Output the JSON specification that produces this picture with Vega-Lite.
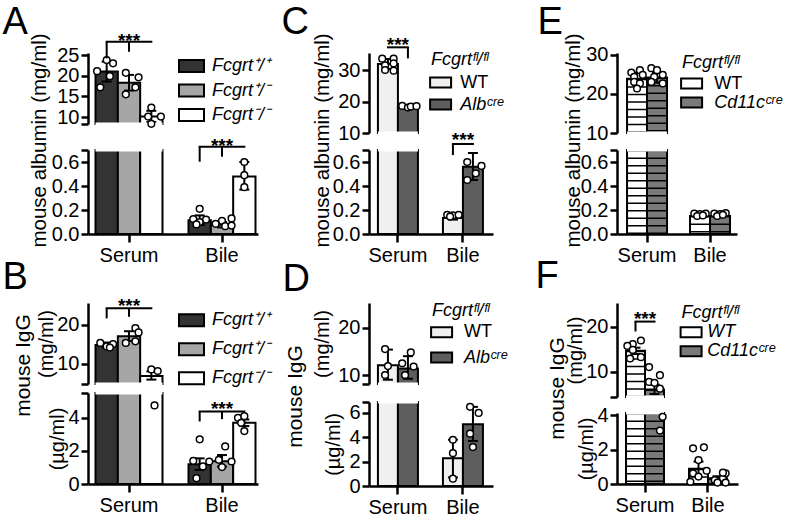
{
"$schema":"https://vega.github.io/schema/vega-lite/v6.json",
"background":"white",
"padding":{"left":2,"top":3,"right":0,"bottom":0},
"datasets":{
"bars":[
{"p":"A","c":"Serum","g":"Fcgrt⁺/⁺","m":21.0,"lo":18.6,"hi":23.4},
{"p":"A","c":"Serum","g":"Fcgrt⁺/⁻","m":18.3,"lo":16.4,"hi":20.2},
{"p":"A","c":"Serum","g":"Fcgrt⁻/⁻","m":10.1,"lo":8.8,"hi":11.5},
{"p":"A","c":"Bile","g":"Fcgrt⁺/⁺","m":0.115,"lo":0.075,"hi":0.155},
{"p":"A","c":"Bile","g":"Fcgrt⁺/⁻","m":0.078,"lo":0.055,"hi":0.1},
{"p":"A","c":"Bile","g":"Fcgrt⁻/⁻","m":0.48,"lo":0.37,"hi":0.6},
{"p":"B","c":"Serum","g":"Fcgrt⁺/⁺","m":14.9,"lo":14.3,"hi":15.5},
{"p":"B","c":"Serum","g":"Fcgrt⁺/⁻","m":17.1,"lo":15.9,"hi":18.4},
{"p":"B","c":"Serum","g":"Fcgrt⁻/⁻","m":6.9,"lo":6.0,"hi":8.1},
{"p":"B","c":"Bile","g":"Fcgrt⁺/⁺","m":1.2,"lo":0.85,"hi":1.55},
{"p":"B","c":"Bile","g":"Fcgrt⁺/⁻","m":1.38,"lo":1.05,"hi":1.75},
{"p":"B","c":"Bile","g":"Fcgrt⁻/⁻","m":3.7,"lo":3.5,"hi":3.9},
{"p":"C","c":"Serum","g":"WT","m":31.9,"lo":30.3,"hi":33.5},
{"p":"C","c":"Serum","g":"Albᶜʳᵉ","m":18.2,"lo":17.7,"hi":18.7},
{"p":"C","c":"Bile","g":"WT","m":0.133,"lo":0.12,"hi":0.15},
{"p":"C","c":"Bile","g":"Albᶜʳᵉ","m":0.56,"lo":0.45,"hi":0.675},
{"p":"D","c":"Serum","g":"WT","m":12.1,"lo":9.0,"hi":15.4},
{"p":"D","c":"Serum","g":"Albᶜʳᵉ","m":11.4,"lo":9.2,"hi":14.0},
{"p":"D","c":"Bile","g":"WT","m":2.27,"lo":0.7,"hi":3.8},
{"p":"D","c":"Bile","g":"Albᶜʳᵉ","m":5.07,"lo":3.7,"hi":6.5},
{"p":"E","c":"Serum","g":"WT","m":23.9,"lo":22.3,"hi":25.5},
{"p":"E","c":"Serum","g":"Cd11cᶜʳᵉ","m":24.2,"lo":22.9,"hi":25.6},
{"p":"E","c":"Bile","g":"WT","m":0.15,"lo":0.135,"hi":0.165},
{"p":"E","c":"Bile","g":"Cd11cᶜʳᵉ","m":0.15,"lo":0.135,"hi":0.165},
{"p":"F","c":"Serum","g":"WT","m":14.7,"lo":14.0,"hi":15.4},
{"p":"F","c":"Serum","g":"Cd11cᶜʳᵉ","m":6.1,"lo":5.1,"hi":7.2},
{"p":"F","c":"Bile","g":"WT","m":0.88,"lo":0.45,"hi":1.3},
{"p":"F","c":"Bile","g":"Cd11cᶜʳᵉ","m":0.33,"lo":0.2,"hi":0.45}
],
"pts":[
{"p":"A","c":"Serum","r":"a4","v":23.8},{"p":"A","c":"Serum","r":"a6","v":23.0},{"p":"A","c":"Serum","r":"a1","v":21.1},{"p":"A","c":"Serum","r":"a5","v":19.9},{"p":"A","c":"Serum","r":"a2","v":17.2},
{"p":"A","c":"Serum","r":"b3","v":20.7},{"p":"A","c":"Serum","r":"b7","v":19.6},{"p":"A","c":"Serum","r":"b6","v":17.2},{"p":"A","c":"Serum","r":"b3","v":15.5},
{"p":"A","c":"Serum","r":"c4","v":12.3},{"p":"A","c":"Serum","r":"c3","v":10.1},{"p":"A","c":"Serum","r":"c7","v":10.1},{"p":"A","c":"Serum","r":"c4","v":8.35},
{"p":"A","c":"Bile","r":"a4","v":0.21},{"p":"A","c":"Bile","r":"a2","v":0.125},{"p":"A","c":"Bile","r":"a6","v":0.12},{"p":"A","c":"Bile","r":"a4","v":0.1},{"p":"A","c":"Bile","r":"a3","v":0.08},
{"p":"A","c":"Bile","r":"b7","v":0.13},{"p":"A","c":"Bile","r":"b4","v":0.11},{"p":"A","c":"Bile","r":"b2","v":0.085},{"p":"A","c":"Bile","r":"b5","v":0.065},{"p":"A","c":"Bile","r":"b7","v":0.07},
{"p":"A","c":"Bile","r":"c4","v":0.6},{"p":"A","c":"Bile","r":"c4","v":0.49},{"p":"A","c":"Bile","r":"c4","v":0.39},
{"p":"B","c":"Serum","r":"a2","v":15.4},{"p":"B","c":"Serum","r":"a4","v":14.5},{"p":"B","c":"Serum","r":"a6","v":15.1},{"p":"B","c":"Serum","r":"a5","v":14.2},
{"p":"B","c":"Serum","r":"b6","v":19.2},{"p":"B","c":"Serum","r":"b7","v":18.1},{"p":"B","c":"Serum","r":"b6","v":15.8},{"p":"B","c":"Serum","r":"b3","v":15.4},
{"p":"B","c":"Serum","r":"c4","v":8.6},{"p":"B","c":"Serum","r":"c6","v":8.2},{"p":"B","c":"Serum","r":"c5","v":4.75},
{"p":"B","c":"Bile","r":"a4","v":2.7},{"p":"B","c":"Bile","r":"a2","v":1.4},{"p":"B","c":"Bile","r":"a7","v":1.36},{"p":"B","c":"Bile","r":"a5","v":1.06},{"p":"B","c":"Bile","r":"a3","v":0.35},
{"p":"B","c":"Bile","r":"b5","v":2.27},{"p":"B","c":"Bile","r":"b3","v":1.46},{"p":"B","c":"Bile","r":"b7","v":1.36},{"p":"B","c":"Bile","r":"b4","v":1.02},
{"p":"B","c":"Bile","r":"c2","v":4.0},{"p":"B","c":"Bile","r":"c4","v":4.1},{"p":"B","c":"Bile","r":"c3","v":3.7},{"p":"B","c":"Bile","r":"c4","v":3.2},
{"p":"C","c":"Serum","r":"a2","v":33.6},{"p":"C","c":"Serum","r":"a6","v":33.6},{"p":"C","c":"Serum","r":"a3","v":31.5},{"p":"C","c":"Serum","r":"a6","v":32.1},{"p":"C","c":"Serum","r":"a3","v":30.0},{"p":"C","c":"Serum","r":"a6","v":29.8},
{"p":"C","c":"Serum","r":"b2","v":18.6},{"p":"C","c":"Serum","r":"b4","v":18.1},{"p":"C","c":"Serum","r":"b5","v":18.4},{"p":"C","c":"Serum","r":"b7","v":18.5},
{"p":"C","c":"Bile","r":"a2","v":0.16},{"p":"C","c":"Bile","r":"a4","v":0.155},{"p":"C","c":"Bile","r":"a6","v":0.16},{"p":"C","c":"Bile","r":"a3","v":0.145},
{"p":"C","c":"Bile","r":"b2","v":0.6},{"p":"C","c":"Bile","r":"b7","v":0.567},{"p":"C","c":"Bile","r":"b5","v":0.506},{"p":"C","c":"Bile","r":"b2","v":0.45},
{"p":"D","c":"Serum","r":"a3","v":15.5},{"p":"D","c":"Serum","r":"a4","v":11.9},{"p":"D","c":"Serum","r":"a3","v":10.0},
{"p":"D","c":"Serum","r":"b5","v":14.8},{"p":"D","c":"Serum","r":"b2","v":12.5},{"p":"D","c":"Serum","r":"b6","v":11.8},{"p":"D","c":"Serum","r":"b3","v":10.0},
{"p":"D","c":"Bile","r":"a4","v":3.8},{"p":"D","c":"Bile","r":"a4","v":2.7},{"p":"D","c":"Bile","r":"a4","v":0.6},
{"p":"D","c":"Bile","r":"b3","v":6.5},{"p":"D","c":"Bile","r":"b6","v":6.0},{"p":"D","c":"Bile","r":"b3","v":4.3},{"p":"D","c":"Bile","r":"b4","v":3.2},
{"p":"E","c":"Serum","r":"a2","v":25.5},{"p":"E","c":"Serum","r":"a5","v":26.1},{"p":"E","c":"Serum","r":"a3","v":24.4},{"p":"E","c":"Serum","r":"a6","v":24.9},{"p":"E","c":"Serum","r":"a3","v":23.1},{"p":"E","c":"Serum","r":"a5","v":22.7},{"p":"E","c":"Serum","r":"a4","v":21.4},
{"p":"E","c":"Serum","r":"b2","v":26.6},{"p":"E","c":"Serum","r":"b4","v":26.1},{"p":"E","c":"Serum","r":"b6","v":24.9},{"p":"E","c":"Serum","r":"b3","v":24.4},{"p":"E","c":"Serum","r":"b2","v":23.1},{"p":"E","c":"Serum","r":"b6","v":22.7},
{"p":"E","c":"Bile","r":"a2","v":0.17},{"p":"E","c":"Bile","r":"a4","v":0.165},{"p":"E","c":"Bile","r":"a6","v":0.17},{"p":"E","c":"Bile","r":"a3","v":0.15},{"p":"E","c":"Bile","r":"a5","v":0.155},
{"p":"E","c":"Bile","r":"b2","v":0.17},{"p":"E","c":"Bile","r":"b4","v":0.165},{"p":"E","c":"Bile","r":"b6","v":0.175},{"p":"E","c":"Bile","r":"b3","v":0.15},{"p":"E","c":"Bile","r":"b5","v":0.16},
{"p":"F","c":"Serum","r":"a6","v":17.0},{"p":"F","c":"Serum","r":"a3","v":16.2},{"p":"F","c":"Serum","r":"a1","v":15.8},{"p":"F","c":"Serum","r":"a3","v":14.9},{"p":"F","c":"Serum","r":"a2","v":13.0},{"p":"F","c":"Serum","r":"a6","v":13.3},
{"p":"F","c":"Serum","r":"b2","v":11.1},{"p":"F","c":"Serum","r":"b6","v":9.3},{"p":"F","c":"Serum","r":"b2","v":7.8},{"p":"F","c":"Serum","r":"b4","v":7.6},{"p":"F","c":"Serum","r":"b6","v":6.3},{"p":"F","c":"Serum","r":"b7","v":3.9},{"p":"F","c":"Serum","r":"b6","v":3.1},
{"p":"F","c":"Bile","r":"a2","v":2.07},{"p":"F","c":"Bile","r":"a6","v":2.13},{"p":"F","c":"Bile","r":"a4","v":1.39},{"p":"F","c":"Bile","r":"a7","v":0.77},{"p":"F","c":"Bile","r":"a2","v":0.62},{"p":"F","c":"Bile","r":"a4","v":0.43},{"p":"F","c":"Bile","r":"a1","v":0.13},
{"p":"F","c":"Bile","r":"b3","v":0.23},{"p":"F","c":"Bile","r":"b6","v":0.33},{"p":"F","c":"Bile","r":"b4","v":0.08},{"p":"F","c":"Bile","r":"b7","v":0.62},{"p":"F","c":"Bile","r":"b6","v":0.66},{"p":"F","c":"Bile","r":"b7","v":0.08}
],
"bl":[
{"p":"A","s":"t","k":1,"c":"Serum","g":"Fcgrt⁺/⁺","y":28.2},{"p":"A","s":"t","k":1,"c":"Serum","g":"Fcgrt⁻/⁻","y":28.2},
{"p":"A","s":"b","k":2,"c":"Bile","g":"Fcgrt⁺/⁺","y":0.7275},{"p":"A","s":"b","k":2,"c":"Bile","g":"Fcgrt⁻/⁻","y":0.7275},
{"p":"B","s":"t","k":3,"c":"Serum","g":"Fcgrt⁺/⁺","y":24.3},{"p":"B","s":"t","k":3,"c":"Serum","g":"Fcgrt⁻/⁻","y":24.3},
{"p":"B","s":"b","k":4,"c":"Bile","g":"Fcgrt⁺/⁺","y":4.38},{"p":"B","s":"b","k":4,"c":"Bile","g":"Fcgrt⁻/⁻","y":4.38},
{"p":"C","s":"t","k":5,"c":"Serum","g":"WT","y":37.2},{"p":"C","s":"t","k":5,"c":"Serum","g":"Albᶜʳᵉ","y":37.2},
{"p":"C","s":"b","k":6,"c":"Bile","g":"WT","y":0.75},{"p":"C","s":"b","k":6,"c":"Bile","g":"Albᶜʳᵉ","y":0.75},
{"p":"F","s":"t","k":7,"c":"Serum","g":"WT","y":21.2},{"p":"F","s":"t","k":7,"c":"Serum","g":"Cd11cᶜʳᵉ","y":21.2}
],
"bt":[
{"p":"A","s":"t","c":"Serum","g":"Fcgrt⁺/⁺","yt":28.2,"yb":24.2},{"p":"A","s":"t","c":"Serum","g":"Fcgrt⁺/⁻","yt":28.2,"yb":25.8},
{"p":"A","s":"b","c":"Bile","g":"Fcgrt⁺/⁺","yt":0.7275,"yb":0.6025},{"p":"A","s":"b","c":"Bile","g":"Fcgrt⁺/⁻","yt":0.7275,"yb":0.644},
{"p":"B","s":"t","c":"Serum","g":"Fcgrt⁺/⁺","yt":24.3,"yb":21.7},{"p":"B","s":"t","c":"Serum","g":"Fcgrt⁺/⁻","yt":24.3,"yb":22.1},
{"p":"B","s":"b","c":"Bile","g":"Fcgrt⁺/⁺","yt":4.38,"yb":3.78},{"p":"B","s":"b","c":"Bile","g":"Fcgrt⁺/⁻","yt":4.38,"yb":3.92},
{"p":"C","s":"t","c":"Serum","g":"Albᶜʳᵉ","yt":37.2,"yb":33.7},
{"p":"C","s":"b","c":"Bile","g":"WT","yt":0.75,"yb":0.658},
{"p":"F","s":"t","c":"Serum","g":"WT","yt":21.2,"yb":19.0}
],
"bx":[
{"p":"A","s":"t","c":"Serum","y":26.9,"t":"***"},{"p":"A","s":"b","c":"Bile","y":0.683,"t":"***"},
{"p":"B","s":"t","c":"Serum","y":23.3,"t":"***"},{"p":"B","s":"b","c":"Bile","y":4.18,"t":"***"},
{"p":"C","s":"t","c":"Serum","y":36.0,"t":"***"},{"p":"C","s":"b","c":"Bile","y":0.733,"t":"***"},
{"p":"F","s":"t","c":"Serum","y":20.4,"t":"***"}
]
},
"columns":3,
"spacing":{"row":69,"column":60},
"bounds":"flush",
"resolve":{"scale":{"fill":"independent"},"legend":{"fill":"independent"}},
"concat":[
{
"width":221,"height":181,
"encoding":{"x":{"field":"c","type":"nominal","sort":["Serum","Bile"],"title":null,"scale":{"type":"band","domain":["Serum","Bile"],"range":[0,170],"paddingInner":0.2796,"paddingOuter":0.0538,"align":0.75},"axis":{"labelAngle":0,"labelFontSize":20,"labelPadding":3,"tickSize":8,"title":null}}},
"layer":[
{"data":{"name":"bars"},"transform":[{"filter":"datum.p=='A' && datum.c=='Serum'"}],"mark":{"type":"bar","stroke":"black","strokeWidth":2},
"encoding":{"xOffset":{"field":"g","type":"nominal","scale":{"type":"band","domain":["Fcgrt⁺/⁺","Fcgrt⁺/⁻","Fcgrt⁻/⁻"],"paddingInner":0,"paddingOuter":0}},"y":{"field":"m","type":"quantitative","scale":{"domain":[8.31,25.5],"range":[71,0],"clamp":true,"zero":false,"nice":false},"axis":{"orient":"left","values":[8.31,10,15,20,25],"labelExpr":"datum.value < 9 ? '' : datum.label","title":null}},"y2":{"datum":0},
"fill":{"field":"g","type":"nominal","scale":{"domain":["Fcgrt⁺/⁺","Fcgrt⁺/⁻","Fcgrt⁻/⁻"],"range":["#333333","#a6a6a6","#ffffff"]},"legend":{"orient":"none","legendX":92.5,"legendY":2,"title":null,"symbolType":"M-1.25,-0.6H1.25V0.6H-1.25Z","symbolSize":400,"rowPadding":3.5,"labelOffset":9.5,"labelFontStyle":"italic"}}}},
{"data":{"name":"bars"},"transform":[{"filter":"datum.p=='A' && datum.c=='Serum'"}],"mark":{"type":"rule","color":"black","strokeWidth":2},
"encoding":{"xOffset":{"field":"g","type":"nominal","scale":{"type":"band","domain":["Fcgrt⁺/⁺","Fcgrt⁺/⁻","Fcgrt⁻/⁻"],"paddingInner":0,"paddingOuter":0}},"y":{"field":"lo","type":"quantitative","scale":{"domain":[8.31,25.5],"range":[71,0],"clamp":true,"zero":false,"nice":false},"axis":null},"y2":{"field":"hi"}}},
{"data":{"name":"bars"},"transform":[{"filter":"datum.p=='A' && datum.c=='Serum'"}],"mark":{"type":"tick","orient":"horizontal","size":10,"thickness":2,"color":"black","opacity":1},
"encoding":{"xOffset":{"field":"g","type":"nominal","scale":{"type":"band","domain":["Fcgrt⁺/⁺","Fcgrt⁺/⁻","Fcgrt⁻/⁻"],"paddingInner":0,"paddingOuter":0}},"y":{"field":"hi","type":"quantitative","scale":{"domain":[8.31,25.5],"range":[71,0],"clamp":true,"zero":false,"nice":false},"axis":null}}},
{"data":{"name":"bars"},"transform":[{"filter":"datum.p=='A' && datum.c=='Serum'"}],"mark":{"type":"tick","orient":"horizontal","size":10,"thickness":2,"color":"black","opacity":1},
"encoding":{"xOffset":{"field":"g","type":"nominal","scale":{"type":"band","domain":["Fcgrt⁺/⁺","Fcgrt⁺/⁻","Fcgrt⁻/⁻"],"paddingInner":0,"paddingOuter":0}},"y":{"field":"lo","type":"quantitative","scale":{"domain":[8.31,25.5],"range":[71,0],"clamp":true,"zero":false,"nice":false},"axis":null}}},
{"data":{"name":"bars"},"transform":[{"filter":"datum.p=='A'"}],"mark":{"type":"bar","stroke":"black","strokeWidth":2},
"encoding":{"xOffset":{"field":"g","type":"nominal","scale":{"type":"band","domain":["Fcgrt⁺/⁺","Fcgrt⁺/⁻","Fcgrt⁻/⁻"],"paddingInner":0,"paddingOuter":0}},"y":{"field":"m","type":"quantitative","scale":{"domain":[0,0.7],"range":[181,97],"clamp":true,"zero":false,"nice":false},"axis":{"orient":"left","values":[0,0.2,0.4,0.6,0.7],"format":".1f","labelExpr":"datum.value > 0.65 ? '' : datum.label","title":null}},"y2":{"datum":0},
"fill":{"field":"g","type":"nominal","scale":{"domain":["Fcgrt⁺/⁺","Fcgrt⁺/⁻","Fcgrt⁻/⁻"],"range":["#333333","#a6a6a6","#ffffff"]},"legend":null}}},
{"data":{"name":"bars"},"transform":[{"filter":"datum.p=='A' && datum.c=='Bile'"}],"mark":{"type":"rule","color":"black","strokeWidth":2},
"encoding":{"xOffset":{"field":"g","type":"nominal","scale":{"type":"band","domain":["Fcgrt⁺/⁺","Fcgrt⁺/⁻","Fcgrt⁻/⁻"],"paddingInner":0,"paddingOuter":0}},"y":{"field":"lo","type":"quantitative","scale":{"domain":[0,0.7],"range":[181,97],"clamp":true,"zero":false,"nice":false},"axis":null},"y2":{"field":"hi"}}},
{"data":{"name":"bars"},"transform":[{"filter":"datum.p=='A' && datum.c=='Bile'"}],"mark":{"type":"tick","orient":"horizontal","size":10,"thickness":2,"color":"black","opacity":1},
"encoding":{"xOffset":{"field":"g","type":"nominal","scale":{"type":"band","domain":["Fcgrt⁺/⁺","Fcgrt⁺/⁻","Fcgrt⁻/⁻"],"paddingInner":0,"paddingOuter":0}},"y":{"field":"hi","type":"quantitative","scale":{"domain":[0,0.7],"range":[181,97],"clamp":true,"zero":false,"nice":false},"axis":null}}},
{"data":{"name":"bars"},"transform":[{"filter":"datum.p=='A' && datum.c=='Bile'"}],"mark":{"type":"tick","orient":"horizontal","size":10,"thickness":2,"color":"black","opacity":1},
"encoding":{"xOffset":{"field":"g","type":"nominal","scale":{"type":"band","domain":["Fcgrt⁺/⁺","Fcgrt⁺/⁻","Fcgrt⁻/⁻"],"paddingInner":0,"paddingOuter":0}},"y":{"field":"lo","type":"quantitative","scale":{"domain":[0,0.7],"range":[181,97],"clamp":true,"zero":false,"nice":false},"axis":null}}},
{"data":{"name":"bars"},"transform":[{"filter":"datum.p=='A'"},{"aggregate":[{"op":"count","as":"n"}]}],"mark":{"type":"rect","fill":"white"},
"encoding":{"x":{"datum":"Serum"},"y":{"datum":8.67,"type":"quantitative","scale":{"domain":[8.31,25.5],"range":[71,0],"zero":false,"nice":false},"axis":{"orient":"left","domain":false,"ticks":false,"labels":false,"title":"mouse albumin (mg/ml)","titleX":-43,"titleY":87,"titleAngle":270,"titleAlign":"center","titleBaseline":"alphabetic","titleFontSize":20.5}},"y2":{"datum":1.65}}},
{"data":{"name":"pts"},"transform":[{"filter":"datum.p=='A' && datum.v>=8.3"}],"mark":{"type":"point","filled":true,"fill":"white","stroke":"black","strokeWidth":1.5,"size":45,"opacity":1},
"encoding":{"xOffset":{"field":"r","type":"nominal","scale":{"type":"band","domain":["a1","a2","a3","a4","a5","a6","a7","b1","b2","b3","b4","b5","b6","b7","c1","c2","c3","c4","c5","c6","c7"],"paddingInner":0,"paddingOuter":0}},"y":{"field":"v","type":"quantitative","scale":{"domain":[8.31,25.5],"range":[71,0],"zero":false,"nice":false},"axis":null}}},
{"data":{"name":"pts"},"transform":[{"filter":"datum.p=='A' && datum.v<=0.7"}],"mark":{"type":"point","filled":true,"fill":"white","stroke":"black","strokeWidth":1.5,"size":45,"opacity":1},
"encoding":{"xOffset":{"field":"r","type":"nominal","scale":{"type":"band","domain":["a1","a2","a3","a4","a5","a6","a7","b1","b2","b3","b4","b5","b6","b7","c1","c2","c3","c4","c5","c6","c7"],"paddingInner":0,"paddingOuter":0}},"y":{"field":"v","type":"quantitative","scale":{"domain":[0,0.7],"range":[181,97],"zero":false,"nice":false},"axis":{"orient":"left","domain":false,"ticks":false,"labels":false,"title":"A","titleX":-86,"titleY":-20,"titleAngle":0,"titleAlign":"left","titleBaseline":"alphabetic","titleFontSize":38}}}},
{"data":{"name":"bl"},"transform":[{"filter":"datum.p=='A' && datum.s=='t'"}],"mark":{"type":"line","color":"black","strokeWidth":2,"strokeCap":"square"},"encoding":{"xOffset":{"field":"g","type":"nominal","scale":{"type":"band","domain":["Fcgrt⁺/⁺","Fcgrt⁺/⁻","Fcgrt⁻/⁻"],"paddingInner":0,"paddingOuter":0}},"y":{"field":"y","type":"quantitative","scale":{"domain":[8.31,25.5],"range":[71,0],"zero":false,"nice":false},"axis":null},"detail":{"field":"k","type":"nominal"}}},
{"data":{"name":"bt"},"transform":[{"filter":"datum.p=='A' && datum.s=='t'"}],"mark":{"type":"rule","color":"black","strokeWidth":2},"encoding":{"xOffset":{"field":"g","type":"nominal","scale":{"type":"band","domain":["Fcgrt⁺/⁺","Fcgrt⁺/⁻","Fcgrt⁻/⁻"],"paddingInner":0,"paddingOuter":0}},"y":{"field":"yt","type":"quantitative","scale":{"domain":[8.31,25.5],"range":[71,0],"zero":false,"nice":false},"axis":null},"y2":{"field":"yb"}}},
{"data":{"name":"bx"},"transform":[{"filter":"datum.p=='A' && datum.s=='t'"}],"mark":{"type":"text","fontSize":19,"fontWeight":"bold","baseline":"alphabetic","color":"black"},"encoding":{"y":{"field":"y","type":"quantitative","scale":{"domain":[8.31,25.5],"range":[71,0],"zero":false,"nice":false},"axis":null},"text":{"field":"t"}}},
{"data":{"name":"bl"},"transform":[{"filter":"datum.p=='A' && datum.s=='b'"}],"mark":{"type":"line","color":"black","strokeWidth":2,"strokeCap":"square"},"encoding":{"xOffset":{"field":"g","type":"nominal","scale":{"type":"band","domain":["Fcgrt⁺/⁺","Fcgrt⁺/⁻","Fcgrt⁻/⁻"],"paddingInner":0,"paddingOuter":0}},"y":{"field":"y","type":"quantitative","scale":{"domain":[0,0.7],"range":[181,97],"zero":false,"nice":false},"axis":null},"detail":{"field":"k","type":"nominal"}}},
{"data":{"name":"bt"},"transform":[{"filter":"datum.p=='A' && datum.s=='b'"}],"mark":{"type":"rule","color":"black","strokeWidth":2},"encoding":{"xOffset":{"field":"g","type":"nominal","scale":{"type":"band","domain":["Fcgrt⁺/⁺","Fcgrt⁺/⁻","Fcgrt⁻/⁻"],"paddingInner":0,"paddingOuter":0}},"y":{"field":"yt","type":"quantitative","scale":{"domain":[0,0.7],"range":[181,97],"zero":false,"nice":false},"axis":null},"y2":{"field":"yb"}}},
{"data":{"name":"bx"},"transform":[{"filter":"datum.p=='A' && datum.s=='b'"}],"mark":{"type":"text","fontSize":19,"fontWeight":"bold","baseline":"alphabetic","color":"black"},"encoding":{"y":{"field":"y","type":"quantitative","scale":{"domain":[0,0.7],"range":[181,97],"zero":false,"nice":false},"axis":null},"text":{"field":"t"}}}
],
"resolve":{"scale":{"y":"independent","xOffset":"independent"},"axis":{"y":"independent"}}
},
{
"width":188,"height":181,
"encoding":{"x":{"field":"c","type":"nominal","sort":["Serum","Bile"],"title":null,"scale":{"type":"band","domain":["Serum","Bile"],"range":[0,124],"paddingInner":0.3846,"paddingOuter":0.146,"align":0.47},"axis":{"labelAngle":0,"labelFontSize":20,"labelPadding":3,"tickSize":8,"title":null}}},
"layer":[
{"data":{"name":"bars"},"transform":[{"filter":"datum.p=='C' && datum.c=='Serum'"}],"mark":{"type":"bar","stroke":"black","strokeWidth":2},
"encoding":{"xOffset":{"field":"g","type":"nominal","scale":{"type":"band","domain":["WT","Albᶜʳᵉ"],"paddingInner":0,"paddingOuter":0}},"y":{"field":"m","type":"quantitative","scale":{"domain":[10,35.4],"range":[80,0],"clamp":true,"zero":false,"nice":false},"axis":{"orient":"left","values":[10,20,30],"title":null}},"y2":{"datum":0},
"fill":{"field":"g","type":"nominal","scale":{"domain":["WT","Albᶜʳᵉ"],"range":["#f0f0f0","#5e5e5e"]},"legend":{"orient":"none","legendX":62.1,"legendY":-2.5,"title":"Fcgrtᶠˡ/ᶠˡ","titlePadding":4.5,"symbolType":"M-1.25,-0.6H1.25V0.6H-1.25Z","symbolSize":282,"rowPadding":3,"labelOffset":10.1,"labelFontStyle":{"expr":"datum.label == 'WT' ? 'normal' : 'italic'"}}}}},
{"data":{"name":"bars"},"transform":[{"filter":"datum.p=='C' && datum.c=='Serum'"}],"mark":{"type":"rule","color":"black","strokeWidth":2},
"encoding":{"xOffset":{"field":"g","type":"nominal","scale":{"type":"band","domain":["WT","Albᶜʳᵉ"],"paddingInner":0,"paddingOuter":0}},"y":{"field":"lo","type":"quantitative","scale":{"domain":[10,35.4],"range":[80,0],"clamp":true,"zero":false,"nice":false},"axis":null},"y2":{"field":"hi"}}},
{"data":{"name":"bars"},"transform":[{"filter":"datum.p=='C' && datum.c=='Serum'"}],"mark":{"type":"tick","orient":"horizontal","size":10,"thickness":2,"color":"black","opacity":1},
"encoding":{"xOffset":{"field":"g","type":"nominal","scale":{"type":"band","domain":["WT","Albᶜʳᵉ"],"paddingInner":0,"paddingOuter":0}},"y":{"field":"hi","type":"quantitative","scale":{"domain":[10,35.4],"range":[80,0],"clamp":true,"zero":false,"nice":false},"axis":null}}},
{"data":{"name":"bars"},"transform":[{"filter":"datum.p=='C' && datum.c=='Serum'"}],"mark":{"type":"tick","orient":"horizontal","size":10,"thickness":2,"color":"black","opacity":1},
"encoding":{"xOffset":{"field":"g","type":"nominal","scale":{"type":"band","domain":["WT","Albᶜʳᵉ"],"paddingInner":0,"paddingOuter":0}},"y":{"field":"lo","type":"quantitative","scale":{"domain":[10,35.4],"range":[80,0],"clamp":true,"zero":false,"nice":false},"axis":null}}},
{"data":{"name":"bars"},"transform":[{"filter":"datum.p=='C'"}],"mark":{"type":"bar","stroke":"black","strokeWidth":2},
"encoding":{"xOffset":{"field":"g","type":"nominal","scale":{"type":"band","domain":["WT","Albᶜʳᵉ"],"paddingInner":0,"paddingOuter":0}},"y":{"field":"m","type":"quantitative","scale":{"domain":[0,0.7],"range":[181,97],"clamp":true,"zero":false,"nice":false},"axis":{"orient":"left","values":[0,0.2,0.4,0.6,0.7],"format":".1f","labelExpr":"datum.value > 0.65 ? '' : datum.label","title":null}},"y2":{"datum":0},
"fill":{"field":"g","type":"nominal","scale":{"domain":["WT","Albᶜʳᵉ"],"range":["#f0f0f0","#5e5e5e"]},"legend":null}}},
{"data":{"name":"bars"},"transform":[{"filter":"datum.p=='C' && datum.c=='Bile'"}],"mark":{"type":"rule","color":"black","strokeWidth":2},
"encoding":{"xOffset":{"field":"g","type":"nominal","scale":{"type":"band","domain":["WT","Albᶜʳᵉ"],"paddingInner":0,"paddingOuter":0}},"y":{"field":"lo","type":"quantitative","scale":{"domain":[0,0.7],"range":[181,97],"clamp":true,"zero":false,"nice":false},"axis":null},"y2":{"field":"hi"}}},
{"data":{"name":"bars"},"transform":[{"filter":"datum.p=='C' && datum.c=='Bile'"}],"mark":{"type":"tick","orient":"horizontal","size":10,"thickness":2,"color":"black","opacity":1},
"encoding":{"xOffset":{"field":"g","type":"nominal","scale":{"type":"band","domain":["WT","Albᶜʳᵉ"],"paddingInner":0,"paddingOuter":0}},"y":{"field":"hi","type":"quantitative","scale":{"domain":[0,0.7],"range":[181,97],"clamp":true,"zero":false,"nice":false},"axis":null}}},
{"data":{"name":"bars"},"transform":[{"filter":"datum.p=='C' && datum.c=='Bile'"}],"mark":{"type":"tick","orient":"horizontal","size":10,"thickness":2,"color":"black","opacity":1},
"encoding":{"xOffset":{"field":"g","type":"nominal","scale":{"type":"band","domain":["WT","Albᶜʳᵉ"],"paddingInner":0,"paddingOuter":0}},"y":{"field":"lo","type":"quantitative","scale":{"domain":[0,0.7],"range":[181,97],"clamp":true,"zero":false,"nice":false},"axis":null}}},
{"data":{"name":"bars"},"transform":[{"filter":"datum.p=='C'"},{"aggregate":[{"op":"count","as":"n"}]}],"mark":{"type":"rect","fill":"white"},
"encoding":{"x":{"datum":"Serum"},"y":{"datum":10.48,"type":"quantitative","scale":{"domain":[10,35.4],"range":[80,0],"zero":false,"nice":false},"axis":{"orient":"left","domain":false,"ticks":false,"labels":false,"title":"mouse albumin (mg/ml)","titleX":-41,"titleY":87,"titleAngle":270,"titleAlign":"center","titleBaseline":"alphabetic","titleFontSize":20.5}},"y2":{"datum":4.13}}},
{"data":{"name":"pts"},"transform":[{"filter":"datum.p=='C' && datum.v>=10"}],"mark":{"type":"point","filled":true,"fill":"white","stroke":"black","strokeWidth":1.5,"size":45,"opacity":1},
"encoding":{"xOffset":{"field":"r","type":"nominal","scale":{"type":"band","domain":["a1","a2","a3","a4","a5","a6","a7","b1","b2","b3","b4","b5","b6","b7"],"paddingInner":0,"paddingOuter":0}},"y":{"field":"v","type":"quantitative","scale":{"domain":[10,35.4],"range":[80,0],"zero":false,"nice":false},"axis":null}}},
{"data":{"name":"pts"},"transform":[{"filter":"datum.p=='C' && datum.v<=0.7"}],"mark":{"type":"point","filled":true,"fill":"white","stroke":"black","strokeWidth":1.5,"size":45,"opacity":1},
"encoding":{"xOffset":{"field":"r","type":"nominal","scale":{"type":"band","domain":["a1","a2","a3","a4","a5","a6","a7","b1","b2","b3","b4","b5","b6","b7"],"paddingInner":0,"paddingOuter":0}},"y":{"field":"v","type":"quantitative","scale":{"domain":[0,0.7],"range":[181,97],"zero":false,"nice":false},"axis":{"orient":"left","domain":false,"ticks":false,"labels":false,"title":"C","titleX":-88,"titleY":-20,"titleAngle":0,"titleAlign":"left","titleBaseline":"alphabetic","titleFontSize":38}}}},
{"data":{"name":"bl"},"transform":[{"filter":"datum.p=='C' && datum.s=='t'"}],"mark":{"type":"line","color":"black","strokeWidth":2,"strokeCap":"square"},"encoding":{"xOffset":{"field":"g","type":"nominal","scale":{"type":"band","domain":["WT","Albᶜʳᵉ"],"paddingInner":0,"paddingOuter":0}},"y":{"field":"y","type":"quantitative","scale":{"domain":[10,35.4],"range":[80,0],"zero":false,"nice":false},"axis":null},"detail":{"field":"k","type":"nominal"}}},
{"data":{"name":"bt"},"transform":[{"filter":"datum.p=='C' && datum.s=='t'"}],"mark":{"type":"rule","color":"black","strokeWidth":2},"encoding":{"xOffset":{"field":"g","type":"nominal","scale":{"type":"band","domain":["WT","Albᶜʳᵉ"],"paddingInner":0,"paddingOuter":0}},"y":{"field":"yt","type":"quantitative","scale":{"domain":[10,35.4],"range":[80,0],"zero":false,"nice":false},"axis":null},"y2":{"field":"yb"}}},
{"data":{"name":"bx"},"transform":[{"filter":"datum.p=='C' && datum.s=='t'"}],"mark":{"type":"text","fontSize":19,"fontWeight":"bold","baseline":"alphabetic","color":"black"},"encoding":{"y":{"field":"y","type":"quantitative","scale":{"domain":[10,35.4],"range":[80,0],"zero":false,"nice":false},"axis":null},"text":{"field":"t"}}},
{"data":{"name":"bl"},"transform":[{"filter":"datum.p=='C' && datum.s=='b'"}],"mark":{"type":"line","color":"black","strokeWidth":2,"strokeCap":"square"},"encoding":{"xOffset":{"field":"g","type":"nominal","scale":{"type":"band","domain":["WT","Albᶜʳᵉ"],"paddingInner":0,"paddingOuter":0}},"y":{"field":"y","type":"quantitative","scale":{"domain":[0,0.7],"range":[181,97],"zero":false,"nice":false},"axis":null},"detail":{"field":"k","type":"nominal"}}},
{"data":{"name":"bt"},"transform":[{"filter":"datum.p=='C' && datum.s=='b'"}],"mark":{"type":"rule","color":"black","strokeWidth":2},"encoding":{"xOffset":{"field":"g","type":"nominal","scale":{"type":"band","domain":["WT","Albᶜʳᵉ"],"paddingInner":0,"paddingOuter":0}},"y":{"field":"yt","type":"quantitative","scale":{"domain":[0,0.7],"range":[181,97],"zero":false,"nice":false},"axis":null},"y2":{"field":"yb"}}},
{"data":{"name":"bx"},"transform":[{"filter":"datum.p=='C' && datum.s=='b'"}],"mark":{"type":"text","fontSize":19,"fontWeight":"bold","baseline":"alphabetic","color":"black"},"encoding":{"y":{"field":"y","type":"quantitative","scale":{"domain":[0,0.7],"range":[181,97],"zero":false,"nice":false},"axis":null},"text":{"field":"t"}}}
],
"resolve":{"scale":{"y":"independent","xOffset":"independent"},"axis":{"y":"independent"}}
},
{
"width":121,"height":181,
"encoding":{"x":{"field":"c","type":"nominal","sort":["Serum","Bile"],"title":null,"scale":{"type":"band","domain":["Serum","Bile"],"range":[0,120],"paddingInner":0.365,"paddingOuter":0.135,"align":0.59},"axis":{"labelAngle":0,"labelFontSize":20,"labelPadding":3,"tickSize":8,"title":null}}},
"layer":[
{"data":{"name":"bars"},"transform":[{"filter":"datum.p=='E' && datum.c=='Serum'"}],"mark":{"type":"bar","stroke":"black","strokeWidth":2},
"encoding":{"xOffset":{"field":"g","type":"nominal","scale":{"type":"band","domain":["WT","Cd11cᶜʳᵉ"],"paddingInner":0,"paddingOuter":0}},"y":{"field":"m","type":"quantitative","scale":{"domain":[10,30.5],"range":[80,0],"clamp":true,"zero":false,"nice":false},"axis":{"orient":"left","values":[10,20,30],"title":null}},"y2":{"datum":0},
"fill":{"field":"g","type":"nominal","scale":{"domain":["WT","Cd11cᶜʳᵉ"],"range":["#ffffff","#7a7a7a"]},"legend":{"orient":"none","legendX":65.1,"legendY":0.5,"title":"Fcgrtᶠˡ/ᶠˡ","titlePadding":2.5,"symbolType":"M-1.25,-0.6H1.25V0.6H-1.25Z","symbolSize":282,"rowPadding":0,"labelOffset":13.1,"labelFontStyle":{"expr":"datum.label == 'WT' ? 'normal' : 'italic'"}}}}},
{"data":{"name":"bars"},"transform":[{"filter":"datum.p=='E' && datum.c=='Serum'"}],"mark":{"type":"rule","color":"black","strokeWidth":18,"strokeDash":[1.5,6]},
"encoding":{"xOffset":{"field":"g","type":"nominal","scale":{"type":"band","domain":["WT","Cd11cᶜʳᵉ"],"paddingInner":0,"paddingOuter":0}},"y":{"field":"m","type":"quantitative","scale":{"domain":[10,30.5],"range":[80,0],"clamp":true,"zero":false,"nice":false},"axis":null},"y2":{"datum":0}}},
{"data":{"name":"bars"},"transform":[{"filter":"datum.p=='E' && datum.c=='Serum'"}],"mark":{"type":"rule","color":"black","strokeWidth":2},
"encoding":{"xOffset":{"field":"g","type":"nominal","scale":{"type":"band","domain":["WT","Cd11cᶜʳᵉ"],"paddingInner":0,"paddingOuter":0}},"y":{"field":"lo","type":"quantitative","scale":{"domain":[10,30.5],"range":[80,0],"clamp":true,"zero":false,"nice":false},"axis":null},"y2":{"field":"hi"}}},
{"data":{"name":"bars"},"transform":[{"filter":"datum.p=='E' && datum.c=='Serum'"}],"mark":{"type":"tick","orient":"horizontal","size":10,"thickness":2,"color":"black","opacity":1},
"encoding":{"xOffset":{"field":"g","type":"nominal","scale":{"type":"band","domain":["WT","Cd11cᶜʳᵉ"],"paddingInner":0,"paddingOuter":0}},"y":{"field":"hi","type":"quantitative","scale":{"domain":[10,30.5],"range":[80,0],"clamp":true,"zero":false,"nice":false},"axis":null}}},
{"data":{"name":"bars"},"transform":[{"filter":"datum.p=='E' && datum.c=='Serum'"}],"mark":{"type":"tick","orient":"horizontal","size":10,"thickness":2,"color":"black","opacity":1},
"encoding":{"xOffset":{"field":"g","type":"nominal","scale":{"type":"band","domain":["WT","Cd11cᶜʳᵉ"],"paddingInner":0,"paddingOuter":0}},"y":{"field":"lo","type":"quantitative","scale":{"domain":[10,30.5],"range":[80,0],"clamp":true,"zero":false,"nice":false},"axis":null}}},
{"data":{"name":"bars"},"transform":[{"filter":"datum.p=='E'"}],"mark":{"type":"bar","stroke":"black","strokeWidth":2},
"encoding":{"xOffset":{"field":"g","type":"nominal","scale":{"type":"band","domain":["WT","Cd11cᶜʳᵉ"],"paddingInner":0,"paddingOuter":0}},"y":{"field":"m","type":"quantitative","scale":{"domain":[0,0.7],"range":[181,97],"clamp":true,"zero":false,"nice":false},"axis":{"orient":"left","values":[0,0.2,0.4,0.6,0.7],"format":".1f","labelExpr":"datum.value > 0.65 ? '' : datum.label","title":null}},"y2":{"datum":0},
"fill":{"field":"g","type":"nominal","scale":{"domain":["WT","Cd11cᶜʳᵉ"],"range":["#ffffff","#7a7a7a"]},"legend":null}}},
{"data":{"name":"bars"},"transform":[{"filter":"datum.p=='E'"}],"mark":{"type":"rule","color":"black","strokeWidth":18,"strokeDash":[1.5,6]},
"encoding":{"xOffset":{"field":"g","type":"nominal","scale":{"type":"band","domain":["WT","Cd11cᶜʳᵉ"],"paddingInner":0,"paddingOuter":0}},"y":{"field":"m","type":"quantitative","scale":{"domain":[0,0.7],"range":[181,97],"clamp":true,"zero":false,"nice":false},"axis":null},"y2":{"datum":0}}},
{"data":{"name":"bars"},"transform":[{"filter":"datum.p=='E' && datum.c=='Bile'"}],"mark":{"type":"rule","color":"black","strokeWidth":2},
"encoding":{"xOffset":{"field":"g","type":"nominal","scale":{"type":"band","domain":["WT","Cd11cᶜʳᵉ"],"paddingInner":0,"paddingOuter":0}},"y":{"field":"lo","type":"quantitative","scale":{"domain":[0,0.7],"range":[181,97],"clamp":true,"zero":false,"nice":false},"axis":null},"y2":{"field":"hi"}}},
{"data":{"name":"bars"},"transform":[{"filter":"datum.p=='E' && datum.c=='Bile'"}],"mark":{"type":"tick","orient":"horizontal","size":10,"thickness":2,"color":"black","opacity":1},
"encoding":{"xOffset":{"field":"g","type":"nominal","scale":{"type":"band","domain":["WT","Cd11cᶜʳᵉ"],"paddingInner":0,"paddingOuter":0}},"y":{"field":"hi","type":"quantitative","scale":{"domain":[0,0.7],"range":[181,97],"clamp":true,"zero":false,"nice":false},"axis":null}}},
{"data":{"name":"bars"},"transform":[{"filter":"datum.p=='E'"},{"aggregate":[{"op":"count","as":"n"}]}],"mark":{"type":"rect","fill":"white"},
"encoding":{"x":{"datum":"Serum"},"y":{"datum":10.38,"type":"quantitative","scale":{"domain":[10,30.5],"range":[80,0],"zero":false,"nice":false},"axis":{"orient":"left","domain":false,"ticks":false,"labels":false,"title":"mouse albumin (mg/ml)","titleX":-38,"titleY":87,"titleAngle":270,"titleAlign":"center","titleBaseline":"alphabetic","titleFontSize":20.5}},"y2":{"datum":5.26}}},
{"data":{"name":"pts"},"transform":[{"filter":"datum.p=='E' && datum.v>=10"}],"mark":{"type":"point","filled":true,"fill":"white","stroke":"black","strokeWidth":1.5,"size":45,"opacity":1},
"encoding":{"xOffset":{"field":"r","type":"nominal","scale":{"type":"band","domain":["a1","a2","a3","a4","a5","a6","a7","b1","b2","b3","b4","b5","b6","b7"],"paddingInner":0,"paddingOuter":0}},"y":{"field":"v","type":"quantitative","scale":{"domain":[10,30.5],"range":[80,0],"zero":false,"nice":false},"axis":null}}},
{"data":{"name":"pts"},"transform":[{"filter":"datum.p=='E' && datum.v<=0.7"}],"mark":{"type":"point","filled":true,"fill":"white","stroke":"black","strokeWidth":1.5,"size":45,"opacity":1},
"encoding":{"xOffset":{"field":"r","type":"nominal","scale":{"type":"band","domain":["a1","a2","a3","a4","a5","a6","a7","b1","b2","b3","b4","b5","b6","b7"],"paddingInner":0,"paddingOuter":0}},"y":{"field":"v","type":"quantitative","scale":{"domain":[0,0.7],"range":[181,97],"zero":false,"nice":false},"axis":{"orient":"left","domain":false,"ticks":false,"labels":false,"title":"E","titleX":-80,"titleY":-20,"titleAngle":0,"titleAlign":"left","titleBaseline":"alphabetic","titleFontSize":38}}}}
],
"resolve":{"scale":{"y":"independent","xOffset":"independent"},"axis":{"y":"independent"}}
},
{
"width":221,"height":181,
"encoding":{"x":{"field":"c","type":"nominal","sort":["Serum","Bile"],"title":null,"scale":{"type":"band","domain":["Serum","Bile"],"range":[0,170],"paddingInner":0.2796,"paddingOuter":0.0538,"align":0.75},"axis":{"labelAngle":0,"labelFontSize":20,"labelPadding":3,"tickSize":8,"title":null}}},
"layer":[
{"data":{"name":"bars"},"transform":[{"filter":"datum.p=='B' && datum.c=='Serum'"}],"mark":{"type":"bar","stroke":"black","strokeWidth":2},
"encoding":{"xOffset":{"field":"g","type":"nominal","scale":{"type":"band","domain":["Fcgrt⁺/⁺","Fcgrt⁺/⁻","Fcgrt⁻/⁻"],"paddingInner":0,"paddingOuter":0}},"y":{"field":"m","type":"quantitative","scale":{"domain":[4.87,25.64],"range":[81,0],"clamp":true,"zero":false,"nice":false},"axis":{"orient":"left","values":[4.87,10,20],"labelExpr":"datum.value < 5 ? '' : datum.label","title":"(mg/ml)","titlePadding":0}},"y2":{"datum":0},
"fill":{"field":"g","type":"nominal","scale":{"domain":["Fcgrt⁺/⁺","Fcgrt⁺/⁻","Fcgrt⁻/⁻"],"range":["#333333","#a6a6a6","#ffffff"]},"legend":{"orient":"none","legendX":92.5,"legendY":6.3,"title":null,"symbolType":"M-1.25,-0.6H1.25V0.6H-1.25Z","symbolSize":400,"rowPadding":8,"labelOffset":9.5,"labelFontStyle":"italic"}}}},
{"data":{"name":"bars"},"transform":[{"filter":"datum.p=='B' && datum.c=='Serum'"}],"mark":{"type":"rule","color":"black","strokeWidth":2},
"encoding":{"xOffset":{"field":"g","type":"nominal","scale":{"type":"band","domain":["Fcgrt⁺/⁺","Fcgrt⁺/⁻","Fcgrt⁻/⁻"],"paddingInner":0,"paddingOuter":0}},"y":{"field":"lo","type":"quantitative","scale":{"domain":[4.87,25.64],"range":[81,0],"clamp":true,"zero":false,"nice":false},"axis":null},"y2":{"field":"hi"}}},
{"data":{"name":"bars"},"transform":[{"filter":"datum.p=='B' && datum.c=='Serum'"}],"mark":{"type":"tick","orient":"horizontal","size":10,"thickness":2,"color":"black","opacity":1},
"encoding":{"xOffset":{"field":"g","type":"nominal","scale":{"type":"band","domain":["Fcgrt⁺/⁺","Fcgrt⁺/⁻","Fcgrt⁻/⁻"],"paddingInner":0,"paddingOuter":0}},"y":{"field":"hi","type":"quantitative","scale":{"domain":[4.87,25.64],"range":[81,0],"clamp":true,"zero":false,"nice":false},"axis":null}}},
{"data":{"name":"bars"},"transform":[{"filter":"datum.p=='B' && datum.c=='Serum'"}],"mark":{"type":"tick","orient":"horizontal","size":10,"thickness":2,"color":"black","opacity":1},
"encoding":{"xOffset":{"field":"g","type":"nominal","scale":{"type":"band","domain":["Fcgrt⁺/⁺","Fcgrt⁺/⁻","Fcgrt⁻/⁻"],"paddingInner":0,"paddingOuter":0}},"y":{"field":"lo","type":"quantitative","scale":{"domain":[4.87,25.64],"range":[81,0],"clamp":true,"zero":false,"nice":false},"axis":null}}},
{"data":{"name":"bars"},"transform":[{"filter":"datum.p=='B'"}],"mark":{"type":"bar","stroke":"black","strokeWidth":2},
"encoding":{"xOffset":{"field":"g","type":"nominal","scale":{"type":"band","domain":["Fcgrt⁺/⁺","Fcgrt⁺/⁻","Fcgrt⁻/⁻"],"paddingInner":0,"paddingOuter":0}},"y":{"field":"m","type":"quantitative","scale":{"domain":[0,5.5],"range":[181,90],"clamp":true,"zero":false,"nice":false},"axis":{"orient":"left","values":[0,2,4,5.5],"labelExpr":"datum.value > 5 ? '' : datum.label","title":"(µg/ml)","titlePadding":0}},"y2":{"datum":0},
"fill":{"field":"g","type":"nominal","scale":{"domain":["Fcgrt⁺/⁺","Fcgrt⁺/⁻","Fcgrt⁻/⁻"],"range":["#333333","#a6a6a6","#ffffff"]},"legend":null}}},
{"data":{"name":"bars"},"transform":[{"filter":"datum.p=='B' && datum.c=='Bile'"}],"mark":{"type":"rule","color":"black","strokeWidth":2},
"encoding":{"xOffset":{"field":"g","type":"nominal","scale":{"type":"band","domain":["Fcgrt⁺/⁺","Fcgrt⁺/⁻","Fcgrt⁻/⁻"],"paddingInner":0,"paddingOuter":0}},"y":{"field":"lo","type":"quantitative","scale":{"domain":[0,5.5],"range":[181,90],"clamp":true,"zero":false,"nice":false},"axis":null},"y2":{"field":"hi"}}},
{"data":{"name":"bars"},"transform":[{"filter":"datum.p=='B' && datum.c=='Bile'"}],"mark":{"type":"tick","orient":"horizontal","size":10,"thickness":2,"color":"black","opacity":1},
"encoding":{"xOffset":{"field":"g","type":"nominal","scale":{"type":"band","domain":["Fcgrt⁺/⁺","Fcgrt⁺/⁻","Fcgrt⁻/⁻"],"paddingInner":0,"paddingOuter":0}},"y":{"field":"hi","type":"quantitative","scale":{"domain":[0,5.5],"range":[181,90],"clamp":true,"zero":false,"nice":false},"axis":null}}},
{"data":{"name":"bars"},"transform":[{"filter":"datum.p=='B' && datum.c=='Bile'"}],"mark":{"type":"tick","orient":"horizontal","size":10,"thickness":2,"color":"black","opacity":1},
"encoding":{"xOffset":{"field":"g","type":"nominal","scale":{"type":"band","domain":["Fcgrt⁺/⁺","Fcgrt⁺/⁻","Fcgrt⁻/⁻"],"paddingInner":0,"paddingOuter":0}},"y":{"field":"lo","type":"quantitative","scale":{"domain":[0,5.5],"range":[181,90],"clamp":true,"zero":false,"nice":false},"axis":null}}},
{"data":{"name":"bars"},"transform":[{"filter":"datum.p=='B'"},{"aggregate":[{"op":"count","as":"n"}]}],"mark":{"type":"rect","fill":"white"},
"encoding":{"x":{"datum":"Serum"},"y":{"datum":5.25,"type":"quantitative","scale":{"domain":[4.87,25.64],"range":[81,0],"zero":false,"nice":false},"axis":{"orient":"left","domain":false,"ticks":false,"labels":false,"title":"mouse IgG","titleX":-59,"titleY":62,"titleAngle":270,"titleAlign":"center","titleBaseline":"alphabetic","titleFontSize":21}},"y2":{"datum":2.18}}},
{"data":{"name":"pts"},"transform":[{"filter":"datum.p=='B' && datum.v>=4.87"}],"mark":{"type":"point","filled":true,"fill":"white","stroke":"black","strokeWidth":1.5,"size":45,"opacity":1},
"encoding":{"xOffset":{"field":"r","type":"nominal","scale":{"type":"band","domain":["a1","a2","a3","a4","a5","a6","a7","b1","b2","b3","b4","b5","b6","b7","c1","c2","c3","c4","c5","c6","c7"],"paddingInner":0,"paddingOuter":0}},"y":{"field":"v","type":"quantitative","scale":{"domain":[4.87,25.64],"range":[81,0],"zero":false,"nice":false},"axis":null}}},
{"data":{"name":"pts"},"transform":[{"filter":"datum.p=='B' && datum.v<=5.5"}],"mark":{"type":"point","filled":true,"fill":"white","stroke":"black","strokeWidth":1.5,"size":45,"opacity":1},
"encoding":{"xOffset":{"field":"r","type":"nominal","scale":{"type":"band","domain":["a1","a2","a3","a4","a5","a6","a7","b1","b2","b3","b4","b5","b6","b7","c1","c2","c3","c4","c5","c6","c7"],"paddingInner":0,"paddingOuter":0}},"y":{"field":"v","type":"quantitative","scale":{"domain":[0,5.5],"range":[181,90],"zero":false,"nice":false},"axis":{"orient":"left","domain":false,"ticks":false,"labels":false,"title":"B","titleX":-86,"titleY":-15,"titleAngle":0,"titleAlign":"left","titleBaseline":"alphabetic","titleFontSize":38}}}},
{"data":{"name":"bl"},"transform":[{"filter":"datum.p=='B' && datum.s=='t'"}],"mark":{"type":"line","color":"black","strokeWidth":2,"strokeCap":"square"},"encoding":{"xOffset":{"field":"g","type":"nominal","scale":{"type":"band","domain":["Fcgrt⁺/⁺","Fcgrt⁺/⁻","Fcgrt⁻/⁻"],"paddingInner":0,"paddingOuter":0}},"y":{"field":"y","type":"quantitative","scale":{"domain":[4.87,25.64],"range":[81,0],"zero":false,"nice":false},"axis":null},"detail":{"field":"k","type":"nominal"}}},
{"data":{"name":"bt"},"transform":[{"filter":"datum.p=='B' && datum.s=='t'"}],"mark":{"type":"rule","color":"black","strokeWidth":2},"encoding":{"xOffset":{"field":"g","type":"nominal","scale":{"type":"band","domain":["Fcgrt⁺/⁺","Fcgrt⁺/⁻","Fcgrt⁻/⁻"],"paddingInner":0,"paddingOuter":0}},"y":{"field":"yt","type":"quantitative","scale":{"domain":[4.87,25.64],"range":[81,0],"zero":false,"nice":false},"axis":null},"y2":{"field":"yb"}}},
{"data":{"name":"bx"},"transform":[{"filter":"datum.p=='B' && datum.s=='t'"}],"mark":{"type":"text","fontSize":19,"fontWeight":"bold","baseline":"alphabetic","color":"black"},"encoding":{"y":{"field":"y","type":"quantitative","scale":{"domain":[4.87,25.64],"range":[81,0],"zero":false,"nice":false},"axis":null},"text":{"field":"t"}}},
{"data":{"name":"bl"},"transform":[{"filter":"datum.p=='B' && datum.s=='b'"}],"mark":{"type":"line","color":"black","strokeWidth":2,"strokeCap":"square"},"encoding":{"xOffset":{"field":"g","type":"nominal","scale":{"type":"band","domain":["Fcgrt⁺/⁺","Fcgrt⁺/⁻","Fcgrt⁻/⁻"],"paddingInner":0,"paddingOuter":0}},"y":{"field":"y","type":"quantitative","scale":{"domain":[0,5.5],"range":[181,90],"zero":false,"nice":false},"axis":null},"detail":{"field":"k","type":"nominal"}}},
{"data":{"name":"bt"},"transform":[{"filter":"datum.p=='B' && datum.s=='b'"}],"mark":{"type":"rule","color":"black","strokeWidth":2},"encoding":{"xOffset":{"field":"g","type":"nominal","scale":{"type":"band","domain":["Fcgrt⁺/⁺","Fcgrt⁺/⁻","Fcgrt⁻/⁻"],"paddingInner":0,"paddingOuter":0}},"y":{"field":"yt","type":"quantitative","scale":{"domain":[0,5.5],"range":[181,90],"zero":false,"nice":false},"axis":null},"y2":{"field":"yb"}}},
{"data":{"name":"bx"},"transform":[{"filter":"datum.p=='B' && datum.s=='b'"}],"mark":{"type":"text","fontSize":19,"fontWeight":"bold","baseline":"alphabetic","color":"black"},"encoding":{"y":{"field":"y","type":"quantitative","scale":{"domain":[0,5.5],"range":[181,90],"zero":false,"nice":false},"axis":null},"text":{"field":"t"}}}
],
"resolve":{"scale":{"y":"independent","xOffset":"independent"},"axis":{"y":"independent"}}
},
{
"width":188,"height":183,
"encoding":{"x":{"field":"c","type":"nominal","sort":["Serum","Bile"],"title":null,"scale":{"type":"band","domain":["Serum","Bile"],"range":[0,124],"paddingInner":0.3846,"paddingOuter":0.146,"align":0.47},"axis":{"labelAngle":0,"labelFontSize":20,"labelPadding":3,"tickSize":8,"title":null}}},
"layer":[
{"data":{"name":"bars"},"transform":[{"filter":"datum.p=='D' && datum.c=='Serum'"}],"mark":{"type":"bar","stroke":"black","strokeWidth":2},
"encoding":{"xOffset":{"field":"g","type":"nominal","scale":{"type":"band","domain":["WT","Albᶜʳᵉ"],"paddingInner":0,"paddingOuter":0}},"y":{"field":"m","type":"quantitative","scale":{"domain":[8.09,25.3],"range":[81,0],"clamp":true,"zero":false,"nice":false},"axis":{"orient":"left","values":[8.09,10,20],"labelExpr":"datum.value < 9 ? '' : datum.label","title":"(mg/ml)","titlePadding":5}},"y2":{"datum":0},
"fill":{"field":"g","type":"nominal","scale":{"domain":["WT","Albᶜʳᵉ"],"range":["#f0f0f0","#5e5e5e"]},"legend":{"orient":"none","legendX":63.1,"legendY":-0.8,"title":"Fcgrtᶠˡ/ᶠˡ","titlePadding":2.5,"symbolType":"M-1.25,-0.6H1.25V0.6H-1.25Z","symbolSize":282,"rowPadding":6.3,"labelOffset":12.8,"labelFontStyle":{"expr":"datum.label == 'WT' ? 'normal' : 'italic'"}}}}},
{"data":{"name":"bars"},"transform":[{"filter":"datum.p=='D' && datum.c=='Serum'"}],"mark":{"type":"rule","color":"black","strokeWidth":2},
"encoding":{"xOffset":{"field":"g","type":"nominal","scale":{"type":"band","domain":["WT","Albᶜʳᵉ"],"paddingInner":0,"paddingOuter":0}},"y":{"field":"lo","type":"quantitative","scale":{"domain":[8.09,25.3],"range":[81,0],"clamp":true,"zero":false,"nice":false},"axis":null},"y2":{"field":"hi"}}},
{"data":{"name":"bars"},"transform":[{"filter":"datum.p=='D' && datum.c=='Serum'"}],"mark":{"type":"tick","orient":"horizontal","size":10,"thickness":2,"color":"black","opacity":1},
"encoding":{"xOffset":{"field":"g","type":"nominal","scale":{"type":"band","domain":["WT","Albᶜʳᵉ"],"paddingInner":0,"paddingOuter":0}},"y":{"field":"hi","type":"quantitative","scale":{"domain":[8.09,25.3],"range":[81,0],"clamp":true,"zero":false,"nice":false},"axis":null}}},
{"data":{"name":"bars"},"transform":[{"filter":"datum.p=='D' && datum.c=='Serum'"}],"mark":{"type":"tick","orient":"horizontal","size":10,"thickness":2,"color":"black","opacity":1},
"encoding":{"xOffset":{"field":"g","type":"nominal","scale":{"type":"band","domain":["WT","Albᶜʳᵉ"],"paddingInner":0,"paddingOuter":0}},"y":{"field":"lo","type":"quantitative","scale":{"domain":[8.09,25.3],"range":[81,0],"clamp":true,"zero":false,"nice":false},"axis":null}}},
{"data":{"name":"bars"},"transform":[{"filter":"datum.p=='D'"}],"mark":{"type":"bar","stroke":"black","strokeWidth":2},
"encoding":{"xOffset":{"field":"g","type":"nominal","scale":{"type":"band","domain":["WT","Albᶜʳᵉ"],"paddingInner":0,"paddingOuter":0}},"y":{"field":"m","type":"quantitative","scale":{"domain":[0,6.9],"range":[183,99],"clamp":true,"zero":false,"nice":false},"axis":{"orient":"left","values":[0,2,4,6,6.9],"labelExpr":"datum.value > 6.5 ? '' : datum.label","title":"(µg/ml)","titlePadding":5}},"y2":{"datum":0},
"fill":{"field":"g","type":"nominal","scale":{"domain":["WT","Albᶜʳᵉ"],"range":["#f0f0f0","#5e5e5e"]},"legend":null}}},
{"data":{"name":"bars"},"transform":[{"filter":"datum.p=='D' && datum.c=='Bile'"}],"mark":{"type":"rule","color":"black","strokeWidth":2},
"encoding":{"xOffset":{"field":"g","type":"nominal","scale":{"type":"band","domain":["WT","Albᶜʳᵉ"],"paddingInner":0,"paddingOuter":0}},"y":{"field":"lo","type":"quantitative","scale":{"domain":[0,6.9],"range":[183,99],"clamp":true,"zero":false,"nice":false},"axis":null},"y2":{"field":"hi"}}},
{"data":{"name":"bars"},"transform":[{"filter":"datum.p=='D' && datum.c=='Bile'"}],"mark":{"type":"tick","orient":"horizontal","size":10,"thickness":2,"color":"black","opacity":1},
"encoding":{"xOffset":{"field":"g","type":"nominal","scale":{"type":"band","domain":["WT","Albᶜʳᵉ"],"paddingInner":0,"paddingOuter":0}},"y":{"field":"hi","type":"quantitative","scale":{"domain":[0,6.9],"range":[183,99],"clamp":true,"zero":false,"nice":false},"axis":null}}},
{"data":{"name":"bars"},"transform":[{"filter":"datum.p=='D' && datum.c=='Bile'"}],"mark":{"type":"tick","orient":"horizontal","size":10,"thickness":2,"color":"black","opacity":1},
"encoding":{"xOffset":{"field":"g","type":"nominal","scale":{"type":"band","domain":["WT","Albᶜʳᵉ"],"paddingInner":0,"paddingOuter":0}},"y":{"field":"lo","type":"quantitative","scale":{"domain":[0,6.9],"range":[183,99],"clamp":true,"zero":false,"nice":false},"axis":null}}},
{"data":{"name":"bars"},"transform":[{"filter":"datum.p=='D'"},{"aggregate":[{"op":"count","as":"n"}]}],"mark":{"type":"rect","fill":"white"},
"encoding":{"x":{"datum":"Serum"},"y":{"datum":8.41,"type":"quantitative","scale":{"domain":[8.09,25.3],"range":[81,0],"zero":false,"nice":false},"axis":{"orient":"left","domain":false,"ticks":false,"labels":false,"title":"mouse IgG","titleX":-68,"titleY":93,"titleAngle":270,"titleAlign":"center","titleBaseline":"alphabetic","titleFontSize":21}},"y2":{"datum":3.95}}},
{"data":{"name":"pts"},"transform":[{"filter":"datum.p=='D' && datum.v>=8.09"}],"mark":{"type":"point","filled":true,"fill":"white","stroke":"black","strokeWidth":1.5,"size":45,"opacity":1},
"encoding":{"xOffset":{"field":"r","type":"nominal","scale":{"type":"band","domain":["a1","a2","a3","a4","a5","a6","a7","b1","b2","b3","b4","b5","b6","b7"],"paddingInner":0,"paddingOuter":0}},"y":{"field":"v","type":"quantitative","scale":{"domain":[8.09,25.3],"range":[81,0],"zero":false,"nice":false},"axis":null}}},
{"data":{"name":"pts"},"transform":[{"filter":"datum.p=='D' && datum.v<=6.9"}],"mark":{"type":"point","filled":true,"fill":"white","stroke":"black","strokeWidth":1.5,"size":45,"opacity":1},
"encoding":{"xOffset":{"field":"r","type":"nominal","scale":{"type":"band","domain":["a1","a2","a3","a4","a5","a6","a7","b1","b2","b3","b4","b5","b6","b7"],"paddingInner":0,"paddingOuter":0}},"y":{"field":"v","type":"quantitative","scale":{"domain":[0,6.9],"range":[183,99],"zero":false,"nice":false},"axis":{"orient":"left","domain":false,"ticks":false,"labels":false,"title":"D","titleX":-87,"titleY":-13,"titleAngle":0,"titleAlign":"left","titleBaseline":"alphabetic","titleFontSize":38}}}}
],
"resolve":{"scale":{"y":"independent","xOffset":"independent"},"axis":{"y":"independent"}}
},
{
"width":121,"height":181,
"encoding":{"x":{"field":"c","type":"nominal","sort":["Serum","Bile"],"title":null,"scale":{"type":"band","domain":["Serum","Bile"],"range":[0,121],"paddingInner":0.397,"paddingOuter":0.159,"align":0.45},"axis":{"labelAngle":0,"labelFontSize":20,"labelPadding":3,"tickSize":8,"title":null}}},
"layer":[
{"data":{"name":"bars"},"transform":[{"filter":"datum.p=='F' && datum.c=='Serum'"}],"mark":{"type":"bar","stroke":"black","strokeWidth":2},
"encoding":{"xOffset":{"field":"g","type":"nominal","scale":{"type":"band","domain":["WT","Cd11cᶜʳᵉ"],"paddingInner":0,"paddingOuter":0}},"y":{"field":"m","type":"quantitative","scale":{"domain":[4.44,25.33],"range":[94,0],"clamp":true,"zero":false,"nice":false},"axis":{"orient":"left","values":[4.44,10,20],"labelExpr":"datum.value < 5 ? '' : datum.label","title":"(mg/ml)","titlePadding":0}},"y2":{"datum":0},
"fill":{"field":"g","type":"nominal","scale":{"domain":["WT","Cd11cᶜʳᵉ"],"range":["#ffffff","#7a7a7a"]},"legend":{"orient":"none","legendX":64.6,"legendY":0.5,"title":"Fcgrtᶠˡ/ᶠˡ","titlePadding":1.2,"symbolType":"M-1.25,-0.6H1.25V0.6H-1.25Z","symbolSize":282,"rowPadding":0,"labelOffset":6.6,"labelFontStyle":"italic"}}}},
{"data":{"name":"bars"},"transform":[{"filter":"datum.p=='F' && datum.c=='Serum'"}],"mark":{"type":"rule","color":"black","strokeWidth":17,"strokeDash":[1.5,6]},
"encoding":{"xOffset":{"field":"g","type":"nominal","scale":{"type":"band","domain":["WT","Cd11cᶜʳᵉ"],"paddingInner":0,"paddingOuter":0}},"y":{"field":"m","type":"quantitative","scale":{"domain":[4.44,25.33],"range":[94,0],"clamp":true,"zero":false,"nice":false},"axis":null},"y2":{"datum":0}}},
{"data":{"name":"bars"},"transform":[{"filter":"datum.p=='F' && datum.c=='Serum'"}],"mark":{"type":"rule","color":"black","strokeWidth":2},
"encoding":{"xOffset":{"field":"g","type":"nominal","scale":{"type":"band","domain":["WT","Cd11cᶜʳᵉ"],"paddingInner":0,"paddingOuter":0}},"y":{"field":"lo","type":"quantitative","scale":{"domain":[4.44,25.33],"range":[94,0],"clamp":true,"zero":false,"nice":false},"axis":null},"y2":{"field":"hi"}}},
{"data":{"name":"bars"},"transform":[{"filter":"datum.p=='F' && datum.c=='Serum'"}],"mark":{"type":"tick","orient":"horizontal","size":10,"thickness":2,"color":"black","opacity":1},
"encoding":{"xOffset":{"field":"g","type":"nominal","scale":{"type":"band","domain":["WT","Cd11cᶜʳᵉ"],"paddingInner":0,"paddingOuter":0}},"y":{"field":"hi","type":"quantitative","scale":{"domain":[4.44,25.33],"range":[94,0],"clamp":true,"zero":false,"nice":false},"axis":null}}},
{"data":{"name":"bars"},"transform":[{"filter":"datum.p=='F' && datum.c=='Serum'"}],"mark":{"type":"tick","orient":"horizontal","size":10,"thickness":2,"color":"black","opacity":1},
"encoding":{"xOffset":{"field":"g","type":"nominal","scale":{"type":"band","domain":["WT","Cd11cᶜʳᵉ"],"paddingInner":0,"paddingOuter":0}},"y":{"field":"lo","type":"quantitative","scale":{"domain":[4.44,25.33],"range":[94,0],"clamp":true,"zero":false,"nice":false},"axis":null}}},
{"data":{"name":"bars"},"transform":[{"filter":"datum.p=='F'"}],"mark":{"type":"bar","stroke":"black","strokeWidth":2},
"encoding":{"xOffset":{"field":"g","type":"nominal","scale":{"type":"band","domain":["WT","Cd11cᶜʳᵉ"],"paddingInner":0,"paddingOuter":0}},"y":{"field":"m","type":"quantitative","scale":{"domain":[0,4.12],"range":[181,110],"clamp":true,"zero":false,"nice":false},"axis":{"orient":"left","values":[0,2,4],"title":"(µg/ml)","titlePadding":0}},"y2":{"datum":0},
"fill":{"field":"g","type":"nominal","scale":{"domain":["WT","Cd11cᶜʳᵉ"],"range":["#ffffff","#7a7a7a"]},"legend":null}}},
{"data":{"name":"bars"},"transform":[{"filter":"datum.p=='F'"}],"mark":{"type":"rule","color":"black","strokeWidth":17,"strokeDash":[1.5,6]},
"encoding":{"xOffset":{"field":"g","type":"nominal","scale":{"type":"band","domain":["WT","Cd11cᶜʳᵉ"],"paddingInner":0,"paddingOuter":0}},"y":{"field":"m","type":"quantitative","scale":{"domain":[0,4.12],"range":[181,110],"clamp":true,"zero":false,"nice":false},"axis":null},"y2":{"datum":0}}},
{"data":{"name":"bars"},"transform":[{"filter":"datum.p=='F' && datum.c=='Bile'"}],"mark":{"type":"rule","color":"black","strokeWidth":2},
"encoding":{"xOffset":{"field":"g","type":"nominal","scale":{"type":"band","domain":["WT","Cd11cᶜʳᵉ"],"paddingInner":0,"paddingOuter":0}},"y":{"field":"lo","type":"quantitative","scale":{"domain":[0,4.12],"range":[181,110],"clamp":true,"zero":false,"nice":false},"axis":null},"y2":{"field":"hi"}}},
{"data":{"name":"bars"},"transform":[{"filter":"datum.p=='F' && datum.c=='Bile'"}],"mark":{"type":"tick","orient":"horizontal","size":10,"thickness":2,"color":"black","opacity":1},
"encoding":{"xOffset":{"field":"g","type":"nominal","scale":{"type":"band","domain":["WT","Cd11cᶜʳᵉ"],"paddingInner":0,"paddingOuter":0}},"y":{"field":"hi","type":"quantitative","scale":{"domain":[0,4.12],"range":[181,110],"clamp":true,"zero":false,"nice":false},"axis":null}}},
{"data":{"name":"bars"},"transform":[{"filter":"datum.p=='F'"},{"aggregate":[{"op":"count","as":"n"}]}],"mark":{"type":"rect","fill":"white"},
"encoding":{"x":{"datum":"Serum"},"y":{"datum":4.77,"type":"quantitative","scale":{"domain":[4.44,25.33],"range":[94,0],"zero":false,"nice":false},"axis":{"orient":"left","domain":false,"ticks":false,"labels":false,"title":"mouse IgG","titleX":-54,"titleY":85,"titleAngle":270,"titleAlign":"center","titleBaseline":"alphabetic","titleFontSize":21}},"y2":{"datum":0.55}}},
{"data":{"name":"pts"},"transform":[{"filter":"datum.p=='F' && datum.v>=4.44"}],"mark":{"type":"point","filled":true,"fill":"white","stroke":"black","strokeWidth":1.5,"size":45,"opacity":1},
"encoding":{"xOffset":{"field":"r","type":"nominal","scale":{"type":"band","domain":["a1","a2","a3","a4","a5","a6","a7","b1","b2","b3","b4","b5","b6","b7"],"paddingInner":0,"paddingOuter":0}},"y":{"field":"v","type":"quantitative","scale":{"domain":[4.44,25.33],"range":[94,0],"zero":false,"nice":false},"axis":null}}},
{"data":{"name":"pts"},"transform":[{"filter":"datum.p=='F' && datum.v<=4.12"}],"mark":{"type":"point","filled":true,"fill":"white","stroke":"black","strokeWidth":1.5,"size":45,"opacity":1},
"encoding":{"xOffset":{"field":"r","type":"nominal","scale":{"type":"band","domain":["a1","a2","a3","a4","a5","a6","a7","b1","b2","b3","b4","b5","b6","b7"],"paddingInner":0,"paddingOuter":0}},"y":{"field":"v","type":"quantitative","scale":{"domain":[0,4.12],"range":[181,110],"zero":false,"nice":false},"axis":{"orient":"left","domain":false,"ticks":false,"labels":false,"title":"F","titleX":-82,"titleY":-16,"titleAngle":0,"titleAlign":"left","titleBaseline":"alphabetic","titleFontSize":38}}}},
{"data":{"name":"bl"},"transform":[{"filter":"datum.p=='F' && datum.s=='t'"}],"mark":{"type":"line","color":"black","strokeWidth":2,"strokeCap":"square"},"encoding":{"xOffset":{"field":"g","type":"nominal","scale":{"type":"band","domain":["WT","Cd11cᶜʳᵉ"],"paddingInner":0,"paddingOuter":0}},"y":{"field":"y","type":"quantitative","scale":{"domain":[4.44,25.33],"range":[94,0],"zero":false,"nice":false},"axis":null},"detail":{"field":"k","type":"nominal"}}},
{"data":{"name":"bt"},"transform":[{"filter":"datum.p=='F' && datum.s=='t'"}],"mark":{"type":"rule","color":"black","strokeWidth":2},"encoding":{"xOffset":{"field":"g","type":"nominal","scale":{"type":"band","domain":["WT","Cd11cᶜʳᵉ"],"paddingInner":0,"paddingOuter":0}},"y":{"field":"yt","type":"quantitative","scale":{"domain":[4.44,25.33],"range":[94,0],"zero":false,"nice":false},"axis":null},"y2":{"field":"yb"}}},
{"data":{"name":"bx"},"transform":[{"filter":"datum.p=='F' && datum.s=='t'"}],"mark":{"type":"text","fontSize":19,"fontWeight":"bold","baseline":"alphabetic","color":"black"},"encoding":{"y":{"field":"y","type":"quantitative","scale":{"domain":[4.44,25.33],"range":[94,0],"zero":false,"nice":false},"axis":null},"text":{"field":"t"}}}
],
"resolve":{"scale":{"y":"independent","xOffset":"independent"},"axis":{"y":"independent"}}
}
],
"config":{
"font":"Liberation Sans",
"view":{"stroke":null},
"axis":{"grid":false,"domainColor":"black","tickColor":"black","labelColor":"black","titleColor":"black","labelFontSize":20,"titleFontSize":20,"titleFontWeight":"normal","domainWidth":2.5,"tickWidth":2.5,"tickSize":7,"labelPadding":2,"zindex":1,"labelFont":"Liberation Sans","titleFont":"Liberation Sans"},
"legend":{"labelColor":"black","titleColor":"black","labelFontSize":18,"titleFontSize":18,"titleFontWeight":"normal","titleFontStyle":"italic","symbolStrokeColor":"black","symbolStrokeWidth":2,"symbolOpacity":1,"labelFont":"Liberation Sans","titleFont":"Liberation Sans"}
}
}
